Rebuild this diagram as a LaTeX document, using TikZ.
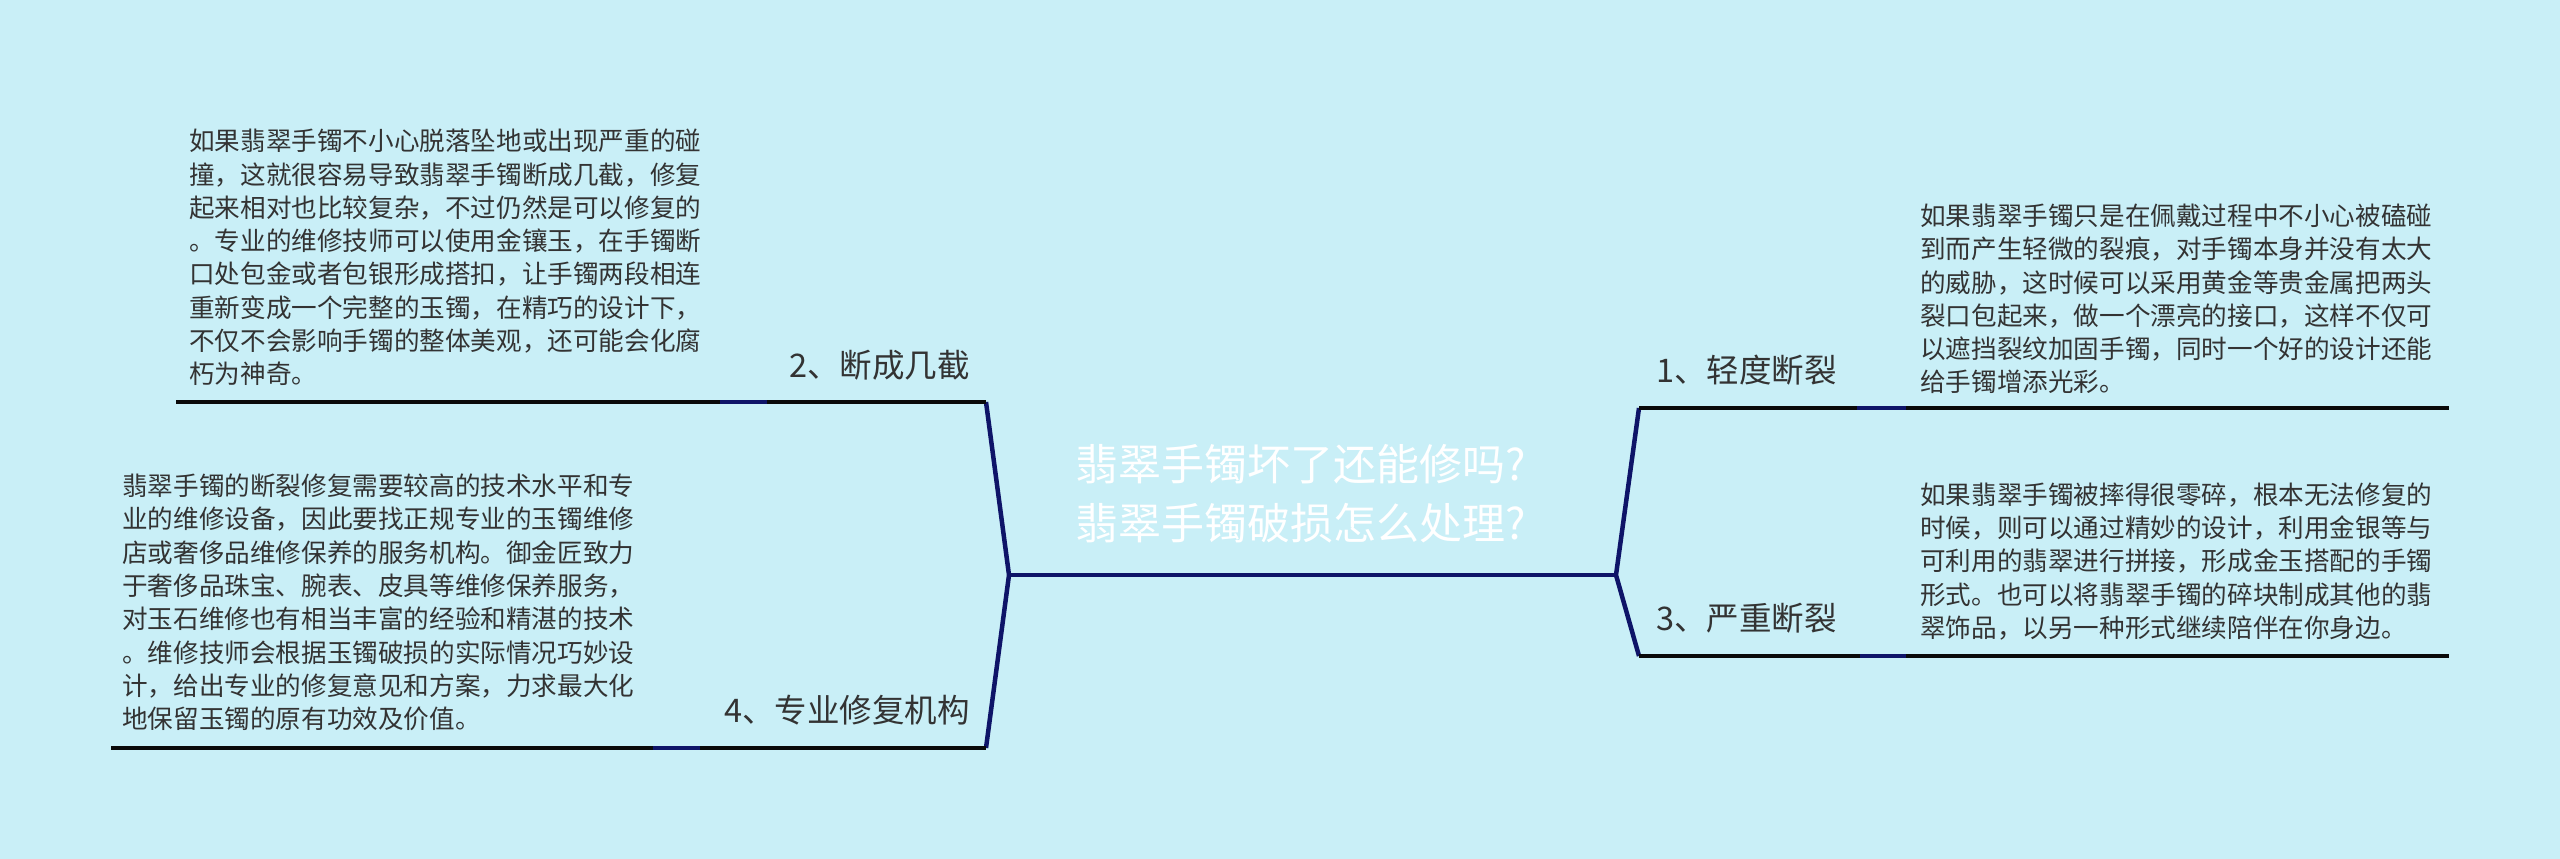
\documentclass[tikz,border=0pt]{standalone}
\usepackage{fontspec}
\setmainfont{Noto Sans CJK SC}
\definecolor{bgcol}{HTML}{C9EFF7}
\definecolor{navy}{HTML}{0E1468}
\definecolor{txtgray}{HTML}{333333}
\definecolor{ulblack}{HTML}{0A0A0A}
\tikzset{
  bodytext/.style={font={\fontsize{25.6}{33.3}\selectfont}, text=txtgray, align=left, inner sep=0pt},
  branchlabel/.style={font={\fontsize{32.5}{40}\selectfont}, text=txtgray, inner sep=0pt},
  centertext/.style={font={\fontsize{43}{59}\selectfont}, text=white, align=center, inner sep=0pt},
  conn/.style={draw=navy, line width=4.5pt, line join=miter},
  underl/.style={draw=ulblack, line width=3.6pt},
  ulnavy/.style={draw=navy, line width=3.6pt}
}
\begin{document}
\begin{tikzpicture}[x=1pt,y={(0pt,-1pt)}]
\fill[bgcol] (0,0) rectangle (2560,859);
\useasboundingbox (0,0) rectangle (2560,859);

% junction coordinates
\coordinate (cl) at (1009,575);
\coordinate (cr) at (1616,575);
\coordinate (b2) at (986,402);
\coordinate (b4) at (986,748);
\coordinate (b1) at (1639,408);
\coordinate (b3) at (1639,656);
\coordinate (b2e) at (176,402);
\coordinate (b4e) at (111,748);
\coordinate (b1e) at (2449,408);
\coordinate (b3e) at (2449,656);
\coordinate (n2a) at (720,402);  \coordinate (n2b) at (767,402);
\coordinate (n4a) at (653,748);  \coordinate (n4b) at (700,748);
\coordinate (n1a) at (1857,408); \coordinate (n1b) at (1906,408);
\coordinate (n3a) at (1860,656); \coordinate (n3b) at (1906,656);

% central topic
\node[centertext] (root) at (1301,494) {翡翠手镯坏了还能修吗?\\翡翠手镯破损怎么处理?};

% connectors
\draw[conn] (cl) -- (cr);
\draw[conn] (b2) -- (cl) -- (b4);
\draw[conn] (b1) -- (cr) -- (b3);

% branch underlines
\draw[underl] (b2e) -- (b2);
\draw[underl] (b4e) -- (b4);
\draw[underl] (b1) -- (b1e);
\draw[underl] (b3) -- (b3e);
\draw[ulnavy] (n2a) -- (n2b);
\draw[ulnavy] (n4a) -- (n4b);
\draw[ulnavy] (n1a) -- (n1b);
\draw[ulnavy] (n3a) -- (n3b);

% branch labels
\node[branchlabel, anchor=east] (l2) at (970,365) {2、断成几截};
\node[branchlabel, anchor=east] (l4) at (970,710) {4、专业修复机构};
\node[branchlabel, anchor=west] (l1) at (1656,370) {1、轻度断裂};
\node[branchlabel, anchor=west] (l3) at (1656,618) {3、严重断裂};

% description texts
\node[bodytext, anchor=west] (t2) at (189,257.5) {如果翡翠手镯不小心脱落坠地或出现严重的碰\\撞，这就很容易导致翡翠手镯断成几截，修复\\起来相对也比较复杂，不过仍然是可以修复的\\。专业的维修技师可以使用金镶玉，在手镯断\\口处包金或者包银形成搭扣，让手镯两段相连\\重新变成一个完整的玉镯，在精巧的设计下，\\不仅不会影响手镯的整体美观，还可能会化腐\\朽为神奇。};
\node[bodytext, anchor=west] (t4) at (122,602.5) {翡翠手镯的断裂修复需要较高的技术水平和专\\业的维修设备，因此要找正规专业的玉镯维修\\店或奢侈品维修保养的服务机构。御金匠致力\\于奢侈品珠宝、腕表、皮具等维修保养服务，\\对玉石维修也有相当丰富的经验和精湛的技术\\。维修技师会根据玉镯破损的实际情况巧妙设\\计，给出专业的修复意见和方案，力求最大化\\地保留玉镯的原有功效及价值。};
\node[bodytext, anchor=west] (t1) at (1920,299) {如果翡翠手镯只是在佩戴过程中不小心被磕碰\\到而产生轻微的裂痕，对手镯本身并没有太大\\的威胁，这时候可以采用黄金等贵金属把两头\\裂口包起来，做一个漂亮的接口，这样不仅可\\以遮挡裂纹加固手镯，同时一个好的设计还能\\给手镯增添光彩。};
\node[bodytext, anchor=west] (t3) at (1920,561.5) {如果翡翠手镯被摔得很零碎，根本无法修复的\\时候，则可以通过精妙的设计，利用金银等与\\可利用的翡翠进行拼接，形成金玉搭配的手镯\\形式。也可以将翡翠手镯的碎块制成其他的翡\\翠饰品，以另一种形式继续陪伴在你身边。};
\end{tikzpicture}
\end{document}
